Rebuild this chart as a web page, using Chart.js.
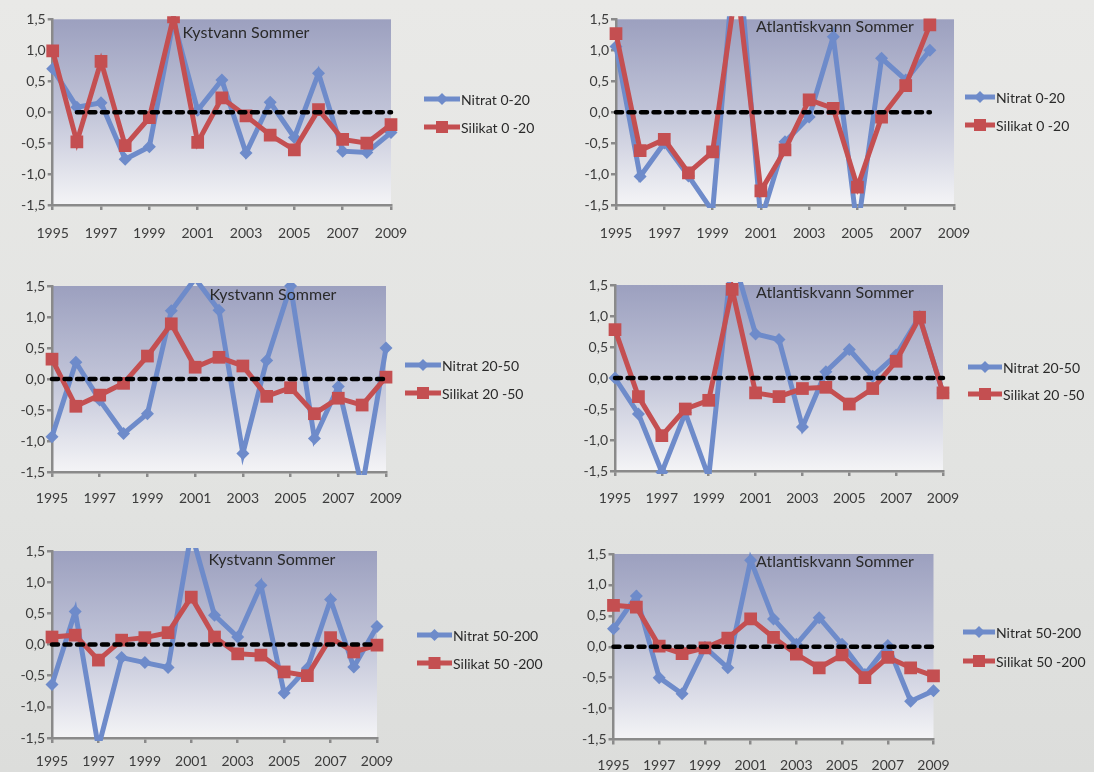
<!DOCTYPE html>
<html><head><meta charset="utf-8">
<script src="https://cdn.jsdelivr.net/npm/chart.js@4.4.0/dist/chart.umd.min.js"></script>
<style>
html,body{margin:0;padding:0;}
body{width:1094px;height:772px;background:linear-gradient(180deg,#e9e9e7 0%,#e2e3e1 60%,#dcdddb 100%);position:relative;overflow:hidden;}
canvas{position:absolute;}
</style></head><body>
<canvas id="c1"></canvas><canvas id="c2"></canvas><canvas id="c3"></canvas>
<canvas id="c4"></canvas><canvas id="c5"></canvas><canvas id="c6"></canvas>
<script>
// ---- data ----
const years = [1995,1996,1997,1998,1999,2000,2001,2002,2003,2004,2005,2006,2007,2008,2009];
const xTickValues = [1995,1997,1999,2001,2003,2005,2007,2009];
const yTickValues = [-1.5,-1.0,-0.5,0.0,0.5,1.0,1.5];

const titleKyst = "Kystvann Sommer";
const titleAtl = "Atlantiskvann Sommer";

const labelsNitrat = ["Nitrat 0-20","Nitrat 20-50","Nitrat 50-200"];
const labelsSilikat = ["Silikat 0 -20","Silikat 20 -50","Silikat 50 -200"];

// Kystvann 0-20
const nitratKyst0_20  = [0.70,0.08,0.15,-0.76,-0.56,1.48,0.03,0.52,-0.66,0.16,-0.41,0.63,-0.63,-0.65,-0.33];
const silikatKyst0_20 = [0.99,-0.48,0.82,-0.54,-0.09,1.54,-0.49,0.23,-0.06,-0.37,-0.61,0.04,-0.44,-0.50,-0.20];
const zeroKyst0_20    = [null,0,0,0,0,0,0,0,0,0,0,0,0,0,0];
// Atlantiskvann 0-20
const nitratAtl0_20   = [1.06,-1.04,-0.50,-1.03,-1.60,2.90,-1.75,-0.48,-0.08,1.22,-1.90,0.87,0.52,1.00,null];
const silikatAtl0_20  = [1.27,-0.62,-0.44,-0.98,-0.64,2.10,-1.27,-0.61,0.20,0.06,-1.21,-0.08,0.43,1.41,null];
const zeroAtl0_20     = [0,0,0,0,0,0,0,0,0,0,0,0,0,0,null];
// Kystvann 20-50
const nitratKyst20_50  = [-0.93,0.27,-0.34,-0.88,-0.56,1.10,1.62,1.11,-1.20,0.30,1.50,-0.96,-0.12,-1.75,0.50];
const silikatKyst20_50 = [0.32,-0.44,-0.26,-0.07,0.37,0.89,0.19,0.35,0.21,-0.28,-0.14,-0.56,-0.31,-0.42,0.03];
const zeroKyst20_50    = [0,0,0,0,0,0,0,0,0,0,0,0,0,0,0];
// Atlantiskvann 20-50
const nitratAtl20_50   = [0.00,-0.58,-1.52,-0.56,-1.60,2.00,0.71,0.62,-0.79,0.10,0.46,0.03,0.37,0.99,-0.24];
const silikatAtl20_50  = [0.78,-0.30,-0.93,-0.50,-0.36,1.43,-0.24,-0.30,-0.17,-0.15,-0.42,-0.17,0.27,0.98,-0.24];
const zeroAtl20_50     = [0,0,0,0,0,0,0,0,0,0,0,0,0,0,0];
// Kystvann 50-200
const nitratKyst50_200  = [-0.64,0.53,-1.65,-0.21,-0.29,-0.37,1.80,0.47,0.12,0.95,-0.78,-0.38,0.72,-0.36,0.29];
const silikatKyst50_200 = [0.12,0.15,-0.25,0.07,0.11,0.19,0.76,0.12,-0.15,-0.17,-0.44,-0.50,0.11,-0.12,-0.01];
const zeroKyst50_200    = [0,0,0,0,0,0,0,0,0,0,0,0,0,0,0];
// Atlantiskvann 50-200
const nitratAtl50_200   = [0.29,0.82,-0.50,-0.76,-0.01,-0.34,1.40,0.45,0.04,0.47,0.04,-0.45,0.02,-0.88,-0.71];
const silikatAtl50_200  = [0.67,0.64,0.01,-0.11,-0.02,0.14,0.45,0.15,-0.12,-0.34,-0.13,-0.50,-0.17,-0.34,-0.47];
const zeroAtl50_200     = [0,0,0,0,0,0,0,0,0,0,0,0,0,0,0];

// ---- styles / layout ----
const BLUE = '#6e8bca', RED = '#c44f51', AXIS = '#8a8a8a', TEXT = '#2a2a2a', TICK = '#3c3c3c';
const FONT = 'Lato, "Open Sans", sans-serif';

const panels = [
  {id:'c1', cv:[0,0,547,262],   plot:[52.7,19.3,391,205], xpad:15, title:titleKyst, tpos:[246,33],
   leg:[424,460,99,127], nit:nitratKyst0_20, sil:silikatKyst0_20, zero:zeroKyst0_20, k:0},
  {id:'c2', cv:[547,0,547,262], plot:[616,19.3,954,205], xpad:15, title:titleAtl, tpos:[835,27],
   leg:[965,995,97,125], nit:nitratAtl0_20, sil:silikatAtl0_20, zero:zeroAtl0_20, k:0},
  {id:'c3', cv:[0,257,547,265], plot:[52,286,386,472], xpad:13, title:titleKyst, tpos:[273,295],
   leg:[405,441,365,393], nit:nitratKyst20_50, sil:silikatKyst20_50, zero:zeroKyst20_50, k:1},
  {id:'c4', cv:[547,257,547,265], plot:[615,285,943,471], xpad:14, title:titleAtl, tpos:[835,293],
   leg:[968,1002,367,394], nit:nitratAtl20_50, sil:silikatAtl20_50, zero:zeroAtl20_50, k:1},
  {id:'c5', cv:[0,514,547,290], plot:[52,551,377,738], xpad:10, title:titleKyst, tpos:[272,560],
   leg:[417,452,635,663], nit:nitratKyst50_200, sil:silikatKyst50_200, zero:zeroKyst50_200, k:2},
  {id:'c6', cv:[547,514,547,290], plot:[613.5,554,933.5,739.5], xpad:13, title:titleAtl, tpos:[835,562],
   leg:[963,995,632,661], nit:nitratAtl50_200, sil:silikatAtl50_200, zero:zeroAtl50_200, k:2},
];

const YW = 50, XH = 45;

const pts = arr => years.map((x,i)=>({x:x, y:arr[i]}));

const bgPlugin = {
  id:'plotBg',
  beforeDraw(chart){
    const a = chart.chartArea, ctx = chart.ctx;
    const g = ctx.createLinearGradient(0,a.top,0,a.bottom);
    g.addColorStop(0,'#9ca0bf');
    g.addColorStop(0.5,'#c1c4d8');
    g.addColorStop(1,'#f4f4f6');
    ctx.save(); ctx.fillStyle = g; ctx.fillRect(a.left,a.top,a.right-a.left,a.bottom-a.top); ctx.restore();
  }
};

function drawMarker(ctx, type, x, y, color){
  ctx.fillStyle = color;
  ctx.beginPath();
  if(type==='diamond'){
    const r=6; ctx.moveTo(x,y-r); ctx.lineTo(x+r,y); ctx.lineTo(x,y+r); ctx.lineTo(x-r,y); ctx.closePath();
  } else {
    const s=6; ctx.rect(x-s,y-s,2*s,2*s);
  }
  ctx.fill();
}

const decoPlugin = {
  id:'deco',
  afterDraw(chart){
    const p = chart.options.plugins.deco, ctx = chart.ctx;
    const ox = p.cv[0], oy = p.cv[1];
    ctx.save();
    ctx.fillStyle = TEXT;
    ctx.font = '16px ' + FONT;
    ctx.textAlign='center'; ctx.textBaseline='middle';
    ctx.fillText(p.title, p.tpos[0]-ox, p.tpos[1]-oy);
    // legend
    const [x0,x1,y1,y2] = p.leg;
    const items = [[y1,BLUE,'diamond',p.l1],[y2,RED,'square',p.l2]];
    ctx.font = '14px ' + FONT;
    ctx.textAlign='left';
    for(const [yy,col,typ,lab] of items){
      const y = yy-oy;
      ctx.strokeStyle = col; ctx.lineWidth = 5; ctx.lineCap='butt';
      ctx.beginPath(); ctx.moveTo(x0-ox,y); ctx.lineTo(x1-ox,y); ctx.stroke();
      drawMarker(ctx, typ, (x0+x1)/2-ox, y, col);
      ctx.fillStyle = TEXT;
      ctx.fillText(lab, x1-ox+1, y+1);
    }
    ctx.restore();
  }
};

for(const p of panels){
  const el = document.getElementById(p.id);
  const [cx,cy,cw,ch] = p.cv;
  el.style.left = cx+'px'; el.style.top = cy+'px';
  el.style.width = cw+'px'; el.style.height = ch+'px';
  el.width = cw; el.height = ch;
  const [L,T,R,B] = p.plot;
  const pad = {left: L-cx-YW, top: T-cy, right: cx+cw-R, bottom: cy+ch-B-XH};
  const clip = {left:10,right:10,top:3,bottom:3};
  new Chart(el, {
    type:'line',
    data:{datasets:[
      {label:'0', data:pts(p.zero), borderColor:'#000', borderWidth:4.5, borderDash:[6,6.5], borderCapStyle:'round',
       pointRadius:0, order:1, clip:clip, spanGaps:false},
      {label:labelsSilikat[p.k], data:pts(p.sil), borderColor:RED, backgroundColor:RED, borderWidth:5,
       pointStyle:'rect', pointRadius:9, pointBorderWidth:0, order:2, clip:clip, borderJoinStyle:'miter'},
      {label:labelsNitrat[p.k], data:pts(p.nit), borderColor:BLUE, backgroundColor:BLUE, borderWidth:5,
       pointStyle:'rectRot', pointRadius:6.5, pointBorderWidth:0, order:3, clip:clip, borderJoinStyle:'miter'},
    ]},
    options:{
      responsive:false, animation:false, devicePixelRatio:1,
      layout:{padding:pad},
      plugins:{legend:{display:false}, tooltip:{enabled:false},
        deco:{cv:p.cv, title:p.title, tpos:p.tpos, leg:p.leg, l1:labelsNitrat[p.k], l2:labelsSilikat[p.k]}},
      elements:{line:{tension:0}},
      scales:{
        x:{type:'linear', min:1995, max:2009,
          afterBuildTicks(s){ s.ticks = xTickValues.map(v=>({value:v})); },
          afterFit(s){ s.height = XH; },
          ticks:{callback:v=>String(v), color:TICK, font:{family:FONT,size:14}, padding:p.xpad, maxRotation:0, autoSkip:false},
          grid:{display:true, drawOnChartArea:false, drawTicks:true, tickLength:5, color:AXIS, lineWidth:2.5},
          border:{display:true, color:AXIS, width:2.5}},
        y:{min:-1.5, max:1.5,
          afterBuildTicks(s){ s.ticks = yTickValues.map(v=>({value:v})); },
          afterFit(s){ s.width = YW; },
          ticks:{callback:v=>v.toFixed(1).replace('.',','), color:TICK, font:{family:FONT,size:14}, padding:2},
          grid:{display:true, drawOnChartArea:false, drawTicks:true, tickLength:5, color:AXIS, lineWidth:2.5},
          border:{display:true, color:AXIS, width:2.5}}
      }
    },
    plugins:[bgPlugin, decoPlugin]
  });
}
</script>
</body></html>
